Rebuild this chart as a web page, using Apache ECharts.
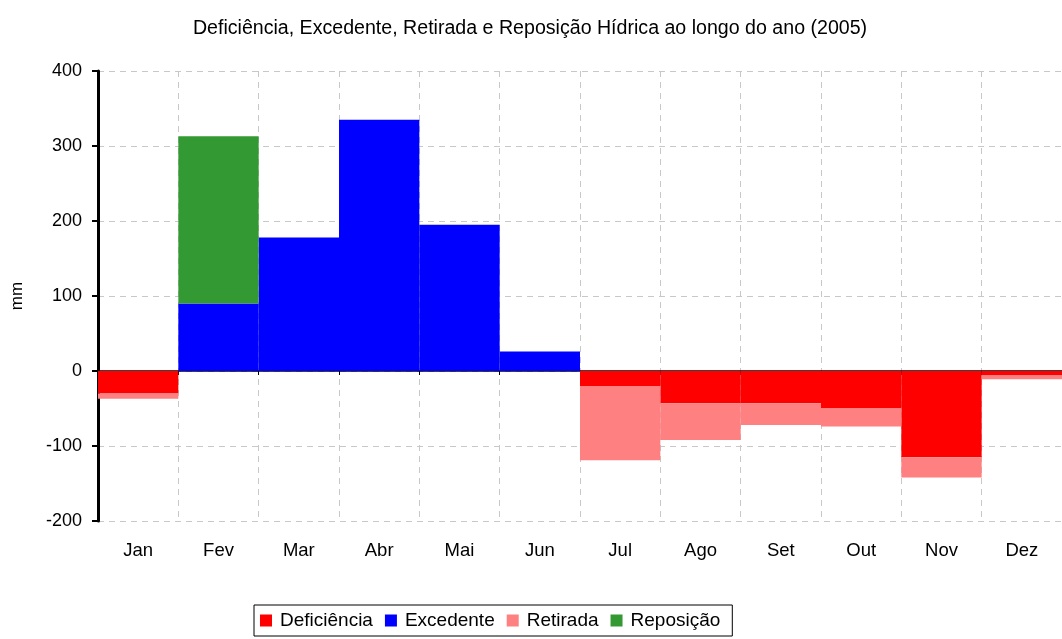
<!DOCTYPE html>
<html>
<head>
<meta charset="utf-8">
<script src="https://cdn.jsdelivr.net/npm/echarts@6/dist/echarts.min.js"></script>
<style>
	html, body { margin: 0; padding: 0; background: #fff; }
	#chart { width: 1062px; height: 639px; }
</style>
</head>
<body>
<div id="chart"></div>
<script>
var months = ['Jan', 'Fev', 'Mar', 'Abr', 'Mai', 'Jun', 'Jul', 'Ago', 'Set', 'Out', 'Nov', 'Dez'];
var deficiencia = [-30, 0, 0, 0, 0, 0, -20, -43, -43, -50, -115, -6];
var excedente = [0, 90, 178, 335, 195, 26, 0, 0, 0, 0, 0, 0];
var retirada = [-7, 0, 0, 0, 0, 0, -99, -49, -29, -24, -27, -5];
var reposicao = [0, 223, 0, 0, 0, 0, 0, 0, 0, 0, 0, 0];
var yTicks = [-200, -100, 0, 100, 200, 300, 400];

var myChart = echarts.init(document.getElementById('chart'));

function serie(nome, dados, cor) {
	return {
		name : nome,
		type : 'bar',
		stack : 'total',
		barCategoryGap : 0,
		barGap : 0,
		xAxisIndex : 0,
		data : dados,
		itemStyle : { color : cor },
		emphasis : { disabled : true }
	};
}

var option = {
	animation : false,
	textStyle : { fontFamily : 'Liberation Sans, Arial, sans-serif' },
	title : {
		text : 'Deficiência, Excedente, Retirada e Reposição Hídrica ao longo do ano (2005)',
		left : 525,
		textAlign : 'center',
		top : 14,
		textStyle : { fontSize : 19.6, fontWeight : 'normal', color : '#000' }
	},
	legend : {
		bottom : 3,
		left : 254,
		itemWidth : 12,
		itemHeight : 12,
		itemGap : 12,
		padding : [6, 12, 6, 6],
		borderColor : '#000',
		borderWidth : 1,
		borderRadius : 0,
		icon : 'rect',
		textStyle : { fontSize : 19, color : '#000', padding : [0, 0, 0, 3] },
		data : ['Deficiência', 'Excedente', 'Retirada', 'Reposição']
	},
	grid : {
		left : 98,
		right : 0,
		top : 71,
		bottom : 118
	},
	xAxis : [{
		type : 'category',
		data : months,
		position : 'bottom',
		axisLine : { show : false, onZero : false },
		axisTick : { show : false },
		axisLabel : { fontSize : 18.5, color : '#000', margin : 20 },
		splitLine : { show : true, lineStyle : { color : '#c8c8c8', type : [6, 5] } }
	}, {
		type : 'category',
		data : months,
		position : 'top',
		axisLine : { onZero : true, lineStyle : { color : '#000', width : 1.5 } },
		axisTick : { show : true, inside : true, length : 4, lineStyle : { color : '#000' } },
		axisLabel : { show : false },
		splitLine : { show : false }
	}],
	yAxis : {
		type : 'value',
		min : yTicks[0],
		max : yTicks[yTicks.length - 1],
		interval : 100,
		name : 'mm',
		nameLocation : 'middle',
		nameGap : 72,
		nameTextStyle : { fontSize : 17, color : '#000' },
		axisLine : { show : true, lineStyle : { color : '#000', width : 3 } },
		axisTick : { show : true, length : 6, lineStyle : { color : '#000', width : 2 } },
		axisLabel : { fontSize : 18, color : '#000', margin : 16 },
		splitLine : { show : true, lineStyle : { color : '#c8c8c8', type : [6, 5] } }
	},
	series : [
		serie('Deficiência', deficiencia, '#ff0000'),
		serie('Excedente', excedente, '#0000ff'),
		serie('Retirada', retirada, '#ff8080'),
		serie('Reposição', reposicao, '#339933')
	]
};
myChart.setOption(option);
</script>
</body>
</html>
